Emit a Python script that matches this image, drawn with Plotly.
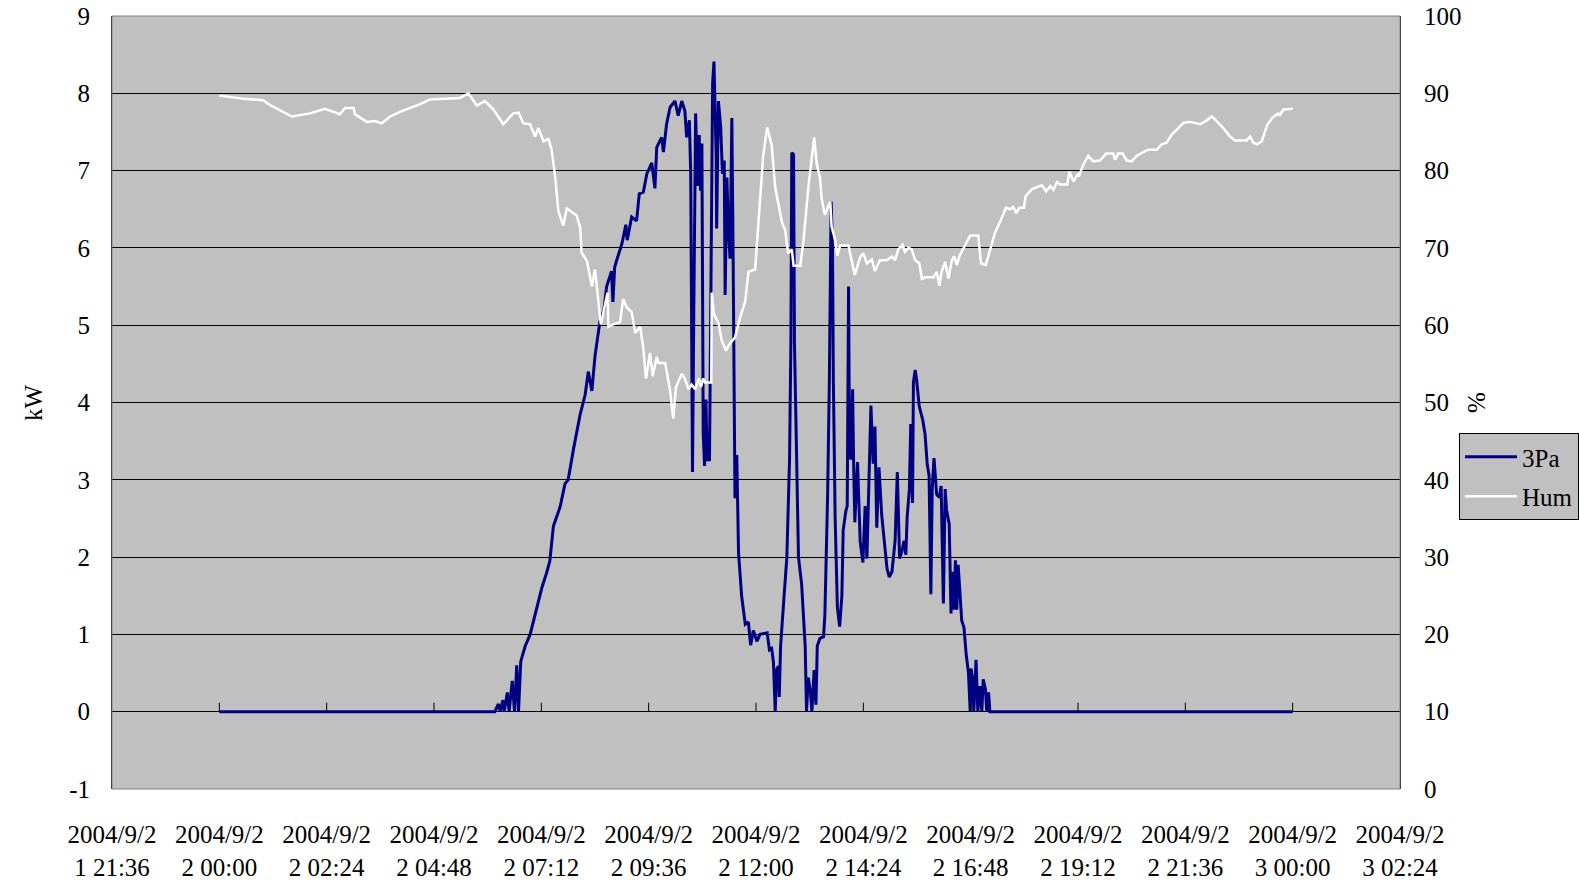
import pandas as pd
import plotly.graph_objects as go

# --- data -------------------------------------------------------------
day0 = pd.Timestamp("2004-09-22 00:00")

# 3-phase output power (kW), hours since 2004/9/22 00:00
kw_hours = [
    0.00, 6.16, 6.24, 6.28, 6.34, 6.37, 6.44, 6.48, 6.55, 6.60, 6.65, 6.69,
    6.74, 6.84, 6.95, 7.06, 7.21, 7.32, 7.39, 7.47, 7.62, 7.73, 7.80, 7.92,
    8.07, 8.18, 8.25, 8.33, 8.40, 8.51, 8.60, 8.66, 8.77, 8.80, 8.84, 8.89,
    9.00, 9.09, 9.12, 9.22, 9.33, 9.39, 9.48, 9.56, 9.67, 9.74, 9.78, 9.89,
    9.93, 10.00, 10.08, 10.19, 10.26, 10.34, 10.41, 10.45, 10.51, 10.54,
    10.58, 10.61, 10.65, 10.69, 10.73, 10.76, 10.79, 10.82, 10.85, 10.88,
    10.91, 10.96, 10.99, 11.03, 11.06, 11.11, 11.12, 11.16, 11.21, 11.25,
    11.29, 11.31, 11.35, 11.38, 11.42, 11.46, 11.49, 11.53, 11.57, 11.61,
    11.68, 11.76, 11.83, 11.88, 11.94, 12.02, 12.09, 12.20, 12.25, 12.30,
    12.35, 12.39, 12.43, 12.46, 12.50, 12.52, 12.55, 12.61, 12.69, 12.75,
    12.78, 12.80, 12.84, 12.86, 12.90, 12.95, 13.02, 13.10, 13.13, 13.17,
    13.22, 13.25, 13.30, 13.34, 13.37, 13.43, 13.51, 13.54, 13.60, 13.64,
    13.68, 13.71, 13.73, 13.77, 13.82, 13.87, 13.92, 13.95, 14.01, 14.04,
    14.07, 14.09, 14.12, 14.16, 14.18, 14.21, 14.27, 14.33, 14.39, 14.44,
    14.48, 14.54, 14.57, 14.62, 14.66, 14.70, 14.75, 14.81, 14.89, 14.93,
    14.98, 15.04, 15.11, 15.16, 15.21, 15.26, 15.31, 15.35, 15.38, 15.43,
    15.46, 15.50, 15.52, 15.56, 15.59, 15.65, 15.73, 15.78, 15.83, 15.87,
    15.91, 15.94, 15.98, 16.04, 16.10, 16.14, 16.19, 16.23, 16.26, 16.32,
    16.36, 16.40, 16.43, 16.46, 16.49, 16.52, 16.55, 16.60, 16.65, 16.70,
    16.75, 16.79, 16.81, 16.85, 16.87, 16.92, 16.96, 17.01, 17.05, 17.08,
    17.13, 17.16, 17.20, 17.23, 24.00,
]
kw_values = [
    0, 0, 0.10, 0, 0.15, 0, 0.25, 0, 0.40, 0, 0.60, 0,
    0.65, 0.85, 1.00, 1.25, 1.60, 1.80, 1.95, 2.40, 2.65, 2.95, 3.00, 3.40,
    3.85, 4.10, 4.40, 4.15, 4.60, 5.05, 5.20, 5.50, 5.70, 5.30, 5.75, 5.85,
    6.05, 6.30, 6.10, 6.40, 6.35, 6.70, 6.72, 6.96, 7.10, 6.77, 7.30, 7.43,
    7.24, 7.60, 7.82, 7.90, 7.71, 7.90, 7.77, 7.43, 7.65, 6.96,
    3.10, 5.25, 7.74, 6.80, 7.46, 6.74, 7.35, 3.60, 3.18, 4.04,
    3.26, 3.26, 5.80, 8.13, 8.41, 7.19, 6.25, 7.90, 7.57, 6.96,
    7.13, 5.39, 6.91, 6.25, 5.86, 7.68, 5.80, 2.76, 3.32, 2.05,
    1.49, 1.13, 1.16, 0.86, 1.05, 0.91, 1.00, 1.02, 1.02, 0.80,
    0.82, 0.64, 0, 0.54, 0.59, 0.19, 0.85, 1.35, 2.00, 3.26,
    4.77, 7.23, 7.21, 4.77, 3.26, 2.00, 1.65, 0.85, 0, 0.44,
    0.24, 0, 0.54, 0.09, 0.85, 0.95, 0.97, 1.25, 2.76, 4.27,
    6.60, 6.03, 4.27, 2.50, 1.35, 1.10, 1.50, 2.35, 2.60, 2.66,
    5.50, 3.46, 3.26, 4.17, 3.31, 2.45, 3.23, 2.20, 1.93, 2.66,
    1.98, 3.26, 3.96, 3.21, 3.69, 2.38, 3.16, 2.55, 2.03, 1.85,
    1.74, 1.81, 2.21, 3.10, 1.98, 2.07, 2.21, 2.03, 2.52, 2.88,
    3.72, 2.70, 4.26, 4.42, 4.30, 3.95, 3.77, 3.59, 3.19, 3.06,
    1.52, 2.88, 3.28, 2.81, 2.77, 2.92, 1.40, 2.88, 2.61, 2.43,
    1.27, 1.81, 1.32, 1.96, 1.32, 1.90, 1.63, 1.18, 1.09, 0.74,
    0.51, 0, 0.56, 0.38, 0, 0.67, 0, 0.33, 0, 0.42,
    0.29, 0, 0.25, 0, 0,
]

# relative humidity (%), hours since 2004/9/22 00:00
hum_hours = [
    0.00, 0.54, 0.98, 1.10, 1.62, 2.03, 2.36, 2.70, 2.81, 3.00, 3.03, 3.30,
    3.48, 3.63, 3.82, 4.04, 4.49, 4.71, 5.38, 5.57, 5.76, 5.94, 6.13, 6.35,
    6.57, 6.69, 6.80, 6.95, 7.06, 7.13, 7.25, 7.36, 7.43, 7.51, 7.58, 7.69,
    7.77, 7.99, 8.07, 8.10, 8.22, 8.33, 8.40, 8.48, 8.53, 8.60, 8.68, 8.70,
    8.81, 8.96, 9.03, 9.11, 9.22, 9.30, 9.41, 9.48, 9.54, 9.63, 9.69, 9.78,
    9.82, 9.97, 10.08, 10.15, 10.21, 10.34, 10.41, 10.49, 10.56, 10.64,
    10.72, 10.77, 10.82, 10.86, 11.00, 11.01, 11.06, 11.16, 11.23, 11.33,
    11.40, 11.53, 11.64, 11.76, 11.83, 11.98, 12.02, 12.08, 12.16, 12.25,
    12.35, 12.43, 12.50, 12.58, 12.65, 12.72, 12.80, 12.84, 12.99, 13.06,
    13.17, 13.25, 13.30, 13.36, 13.43, 13.47, 13.54, 13.66, 13.69, 13.77,
    13.82, 13.88, 14.07, 14.14, 14.21, 14.33, 14.40, 14.48, 14.59, 14.66,
    14.77, 14.92, 15.04, 15.11, 15.18, 15.28, 15.33, 15.41, 15.48, 15.56,
    15.65, 15.71, 15.78, 15.97, 16.04, 16.10, 16.15, 16.23, 16.30, 16.38,
    16.43, 16.49, 16.56, 16.68, 16.79, 16.97, 17.03, 17.14, 17.23, 17.34,
    17.46, 17.59, 17.68, 17.75, 17.82, 17.89, 17.99, 18.03, 18.17, 18.39,
    18.49, 18.58, 18.65, 18.73, 18.80, 18.96, 19.01, 19.10, 19.19, 19.23,
    19.32, 19.43, 19.54, 19.69, 19.83, 19.99, 20.03, 20.10, 20.20, 20.29,
    20.40, 20.51, 20.66, 20.77, 20.96, 21.07, 21.18, 21.30, 21.41, 21.56,
    21.71, 21.93, 22.08, 22.19, 22.30, 22.45, 22.60, 22.71, 22.97, 23.05,
    23.12, 23.20, 23.31, 23.43, 23.54, 23.67, 23.72, 23.79, 24.00,
]
hum_values = [
    89.7, 89.3, 89.1, 88.6, 87.0, 87.4, 88.0, 87.3, 88.1, 88.1, 87.3, 86.3,
    86.4, 86.1, 87.0, 87.6, 88.6, 89.2, 89.4, 90.0, 88.4, 89.0, 87.9, 86.0,
    87.4, 87.5, 86.1, 86.0, 84.4, 85.5, 83.8, 84.1, 82.7, 79.2, 74.8, 72.9,
    75.1, 74.2, 72.6, 69.4, 68.3, 65.0, 67.2, 62.3, 60.1, 62.0, 64.2, 59.8,
    60.1, 60.4, 63.4, 62.3, 61.7, 59.0, 59.8, 57.0, 53.1, 56.4, 53.4, 55.9,
    55.1, 55.1, 51.5, 47.9, 52.0, 53.7, 53.1, 51.7, 52.3, 51.7,
    53.1, 52.0, 53.1, 52.6, 52.6, 64.2, 61.4, 60.3, 58.1, 56.7,
    57.5, 58.4, 60.9, 63.1, 66.9, 67.2, 70.3, 75.2, 81.9, 85.6,
    83.3, 77.8, 75.8, 73.3, 72.3, 69.3, 69.8, 67.7, 67.7, 70.8,
    77.8, 82.3, 84.3, 80.8, 79.1, 76.3, 74.3, 76.0, 72.8, 71.0,
    69.0, 70.3, 70.3, 68.3, 66.5, 68.8, 69.3, 68.0, 68.5, 67.0,
    68.4, 68.4, 68.9, 68.4, 69.8, 70.4, 69.5, 70.0, 69.8, 68.4,
    68.0, 66.0, 66.2, 66.2, 66.9, 65.1, 66.9, 68.2, 66.0, 68.4,
    68.9, 67.8, 69.1, 70.4, 71.6, 71.6, 68.0, 67.8, 69.6, 71.9,
    73.4, 75.2, 75.0, 75.3, 74.5, 75.2, 75.2, 76.7, 77.6, 78.1,
    77.3, 78.0, 77.5, 78.5, 78.2, 78.2, 79.9, 78.6, 79.5, 79.4,
    80.8, 81.9, 81.2, 81.3, 82.2, 82.2, 81.4, 82.2, 82.2, 81.3,
    81.2, 81.9, 82.4, 82.7, 82.7, 83.4, 83.6, 84.7, 85.3, 86.2,
    86.3, 86.0, 86.5, 87.0, 86.4, 85.5, 84.4, 83.9, 83.9, 84.4,
    83.6, 83.4, 83.8, 85.9, 86.8, 87.4, 87.2, 87.9, 88.0,
]

# category axis: ticks every 2 h 24 min, labels as printed
tick_start = pd.Timestamp("2004-09-21 21:36")
tick_step = pd.Timedelta(minutes=144)
tick_labels = [
    "2004/9/2<br>1 21:36", "2004/9/2<br>2 00:00", "2004/9/2<br>2 02:24",
    "2004/9/2<br>2 04:48", "2004/9/2<br>2 07:12", "2004/9/2<br>2 09:36",
    "2004/9/2<br>2 12:00", "2004/9/2<br>2 14:24", "2004/9/2<br>2 16:48",
    "2004/9/2<br>2 19:12", "2004/9/2<br>2 21:36", "2004/9/2<br>3 00:00",
    "2004/9/2<br>3 02:24",
]
tick_vals = [tick_start + i * tick_step for i in range(len(tick_labels))]

kw_ticks = [-1, 0, 1, 2, 3, 4, 5, 6, 7, 8, 9]
hum_ticks = [0, 10, 20, 30, 40, 50, 60, 70, 80, 90, 100]

# --- figure -----------------------------------------------------------
FONT = "Liberation Serif"
FS = 25
PLOT_BG = "#C0C0C0"
W, H = 1579, 889
M_L, M_R, M_T, M_B = 112, 179, 16, 100
plot_w = W - M_L - M_R
plot_h = H - M_T - M_B

kw_x = [day0 + pd.Timedelta(hours=h) for h in kw_hours]
hum_x = [day0 + pd.Timedelta(hours=h) for h in hum_hours]

fig = go.Figure()
fig.add_trace(go.Scatter(
    x=kw_x, y=kw_values, name="3Pa", mode="lines",
    line=dict(color="#000080", width=3), legendgroup="a",
))
fig.add_trace(go.Scatter(
    x=hum_x, y=hum_values, name="Hum", mode="lines", yaxis="y2",
    line=dict(color="#FFFFFF", width=2.5), legendgroup="b",
))

# small upward tick marks on the zero line (category axis crosses at 0)
tick_len_kw = 9 / (plot_h / (kw_ticks[-1] - kw_ticks[0]))
shapes = [
    dict(type="line", xref="x", yref="y", x0=tv, x1=tv, y0=0, y1=tick_len_kw,
         line=dict(color="black", width=1), layer="above")
    for tv in tick_vals[1:-1]
]
# plot-area frame
shapes.append(dict(type="rect", xref="paper", yref="paper", x0=0, x1=1, y0=0, y1=1,
                   line=dict(color="#808080", width=1), layer="above"))

fig.update_layout(
    width=W, height=H,
    margin=dict(l=M_L, r=M_R, t=M_T, b=M_B, pad=0, autoexpand=False),
    paper_bgcolor="white", plot_bgcolor=PLOT_BG,
    font=dict(family=FONT, size=FS, color="black"),
    showlegend=True,
    legend=dict(
        x=(1459 - M_L) / plot_w, y=(M_T + plot_h - 433) / plot_h,
        xanchor="left", yanchor="top",
        bgcolor=PLOT_BG, bordercolor="black", borderwidth=1,
        font=dict(family=FONT, size=FS, color="black"),
        traceorder="grouped", tracegroupgap=4, itemwidth=52,
    ),
    xaxis=dict(
        range=[tick_vals[0], tick_vals[-1]], automargin=False,
        tickmode="array", tickvals=tick_vals, ticktext=tick_labels,
        showgrid=False, zeroline=False, showline=False, ticks="",
        ticklabelstandoff=28, tickangle=0,
        tickfont=dict(family=FONT, size=FS, color="black"),
    ),
    yaxis=dict(
        range=[kw_ticks[0], kw_ticks[-1]], automargin=False,
        tickmode="array", tickvals=kw_ticks, ticktext=[str(v) for v in kw_ticks],
        showgrid=True, gridcolor="black", gridwidth=1,
        zeroline=False, showline=True, linecolor="#000000", linewidth=1,
        ticks="inside", ticklen=9, tickcolor="black",
        ticklabelstandoff=16,
        tickfont=dict(family=FONT, size=FS, color="black"),
    ),
    yaxis2=dict(
        range=[hum_ticks[0], hum_ticks[-1]], automargin=False,
        tickmode="array", tickvals=hum_ticks, ticktext=[str(v) for v in hum_ticks],
        overlaying="y", side="right", anchor="x",
        showgrid=False, zeroline=False, showline=True, linecolor="#000000", linewidth=1,
        ticks="inside", ticklen=9, tickcolor="black",
        ticklabelstandoff=18,
        tickfont=dict(family=FONT, size=FS, color="black"),
    ),
    shapes=shapes,
    annotations=[
        dict(text="kW", xref="paper", yref="paper",
             x=(33 - M_L) / plot_w, y=(M_T + plot_h - 403) / plot_h,
             xanchor="center", yanchor="middle",
             showarrow=False, textangle=-90, font=dict(family=FONT, size=FS)),
        dict(text="%", xref="paper", yref="paper",
             x=(1476 - M_L) / plot_w, y=(M_T + plot_h - 403) / plot_h,
             xanchor="center", yanchor="middle",
             showarrow=False, textangle=-90, font=dict(family=FONT, size=FS)),
    ],
)

fig.write_html("out.html")
